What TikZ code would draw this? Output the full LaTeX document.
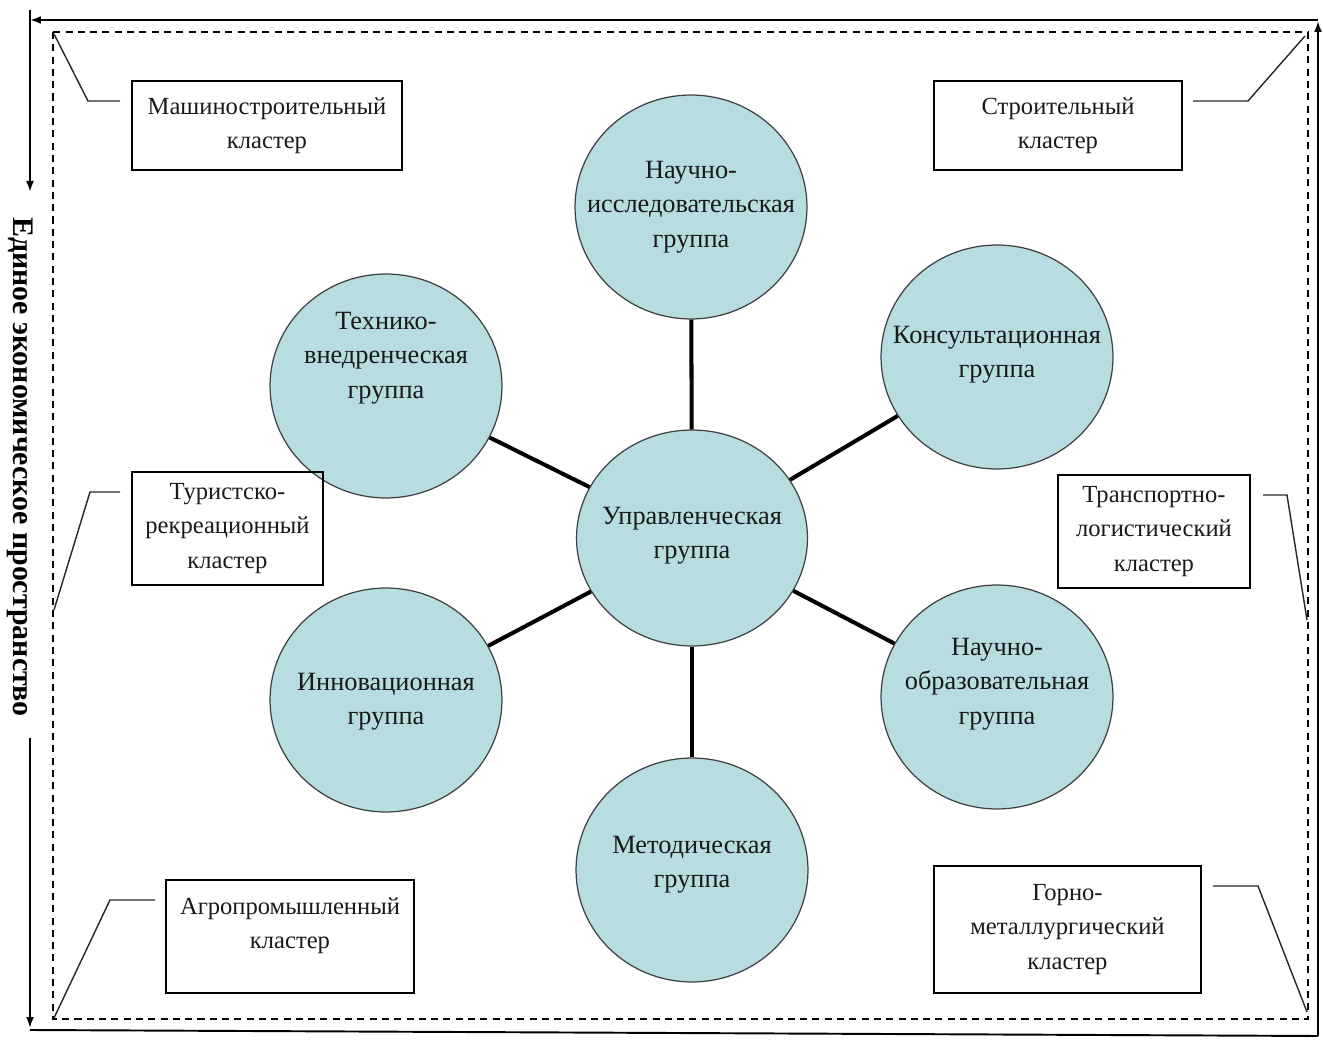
\documentclass[tikz,border=0pt]{standalone}
\usepackage{fontspec}
\setmainfont{Liberation Serif}
\usetikzlibrary{arrows.meta,shapes.geometric}
\definecolor{cfill}{RGB}{183,221,225}
\begin{document}
\begin{tikzpicture}[x=0.02cm,y=-0.02cm,
  grp/.style={ellipse, draw=black!75, line width=0.7pt, fill=cfill, minimum width=4.64cm, minimum height=4.48cm, inner sep=0pt},
  gtxt/.style={align=center, font=\fontsize{15}{19.5}\selectfont, text=black!90, inner sep=0pt},
  btxt/.style={align=center, font=\fontsize{14}{19.5}\selectfont, text=black!90},
  cbox/.style={draw, line width=0.9pt, inner sep=0pt, btxt},
  spoke/.style={line width=2.3pt},
  lead/.style={line width=0.8pt, black!85},
  framearr/.style={line width=1.1pt, -{Latex[length=0.22cm,width=0.16cm]}},
  framelin/.style={line width=1.1pt},
  dashframe/.style={line width=0.9pt, dash pattern=on 4pt off 3pt},
]
\useasboundingbox (0,0) rectangle (1323,1043);

% outer frame
\coordinate (tr) at (1318,20);
\coordinate (tl) at (30,20);
\coordinate (ltop) at (30,10);
\coordinate (lmid1) at (30,192);
\coordinate (lmid2) at (30,738);
\coordinate (lbot) at (30,1028);
\coordinate (bl) at (30,1030);
\coordinate (br) at (1318,1036);
\coordinate (rtop) at (1318,21);
\draw[framearr] (tr) -- (tl);
\draw[framearr] (ltop) -- (lmid1);
\draw[framearr] (lmid2) -- (lbot);
\draw[framelin] (bl) -- (br);
\draw[framearr] (br) -- (rtop);
\node[rotate=-90, font=\bfseries\fontsize{17}{20}\selectfont] (title) at (20,467) {Единое экономическое пространство};

% dashed frame
\coordinate (dtl) at (53,32);
\coordinate (dbr) at (1308,1019);
\draw[dashframe] (dtl) rectangle (dbr);

% groups
\node[grp, minimum width=4.62cm, minimum height=4.32cm, label={[gtxt,yshift=0.04cm]center:{Управленческая\\группа}}] (upr) at (692,538) {};
\node[grp, label={[gtxt]center:{Научно-\\исследовательская\\группа}}] (ni) at (691,207) {};
\node[grp, label={[gtxt,yshift=0.04cm]center:{Консультационная\\группа}}] (kons) at (997,357) {};
\node[grp, label={[gtxt,yshift=0.56cm]center:{Технико-\\внедренческая\\группа}}] (teh) at (386,386) {};
\node[grp, label={[gtxt,yshift=-0.04cm]center:{Инновационная\\группа}}] (inn) at (386,700) {};
\node[grp, label={[gtxt,yshift=0.26cm]center:{Научно-\\образовательная\\группа}}] (no) at (997,697) {};
\node[grp, label={[gtxt,yshift=0.1cm]center:{Методическая\\группа}}] (met) at (692,870) {};

\foreach \g in {ni,kons,teh,inn,no,met} \draw[spoke] (upr) -- (\g);

% clusters
\node[cbox, minimum width=5.4cm, minimum height=1.78cm] (mash) at (267,125.5) {Машиностроительный\\кластер};
\node[cbox, minimum width=4.96cm, minimum height=1.78cm] (stroi) at (1058,125.5) {Строительный\\кластер};
\node[cbox, minimum width=3.82cm, minimum height=2.26cm] (tur) at (227.5,528.5) {Туристско-\\рекреационный\\кластер};
\node[cbox, minimum width=3.84cm, minimum height=2.26cm] (trans) at (1154,531.5) {Транспортно-\\логистический\\кластер};
\node[cbox, minimum width=4.96cm, minimum height=2.26cm, label={[btxt,anchor=north,yshift=-0.24cm]north:{Агропромышленный\\кластер}}] (agro) at (290,936.5) {};
\node[cbox, minimum width=5.34cm, minimum height=2.54cm] (gorno) at (1067.5,929.5) {Горно-\\металлургический\\кластер};

% leaders
\coordinate (m1) at (120,101); \coordinate (m2) at (88,101); \coordinate (m3) at (54,34);
\draw[lead] (m1) -- (m2) -- (m3);
\coordinate (s1) at (1193,101); \coordinate (s2) at (1248,101); \coordinate (s3) at (1305,36);
\draw[lead] (s1) -- (s2) -- (s3);
\coordinate (t1) at (120,492); \coordinate (t2) at (90,492); \coordinate (t3) at (54,610);
\draw[lead] (t1) -- (t2) -- (t3);
\coordinate (p1) at (1263,495); \coordinate (p2) at (1287,495); \coordinate (p3) at (1307,620);
\draw[lead] (p1) -- (p2) -- (p3);
\coordinate (a1) at (155,900); \coordinate (a2) at (110,900); \coordinate (a3) at (54,1018);
\draw[lead] (a1) -- (a2) -- (a3);
\coordinate (g1) at (1213,886); \coordinate (g2) at (1258,886); \coordinate (g3) at (1307,1012);
\draw[lead] (g1) -- (g2) -- (g3);
\end{tikzpicture}
\end{document}
